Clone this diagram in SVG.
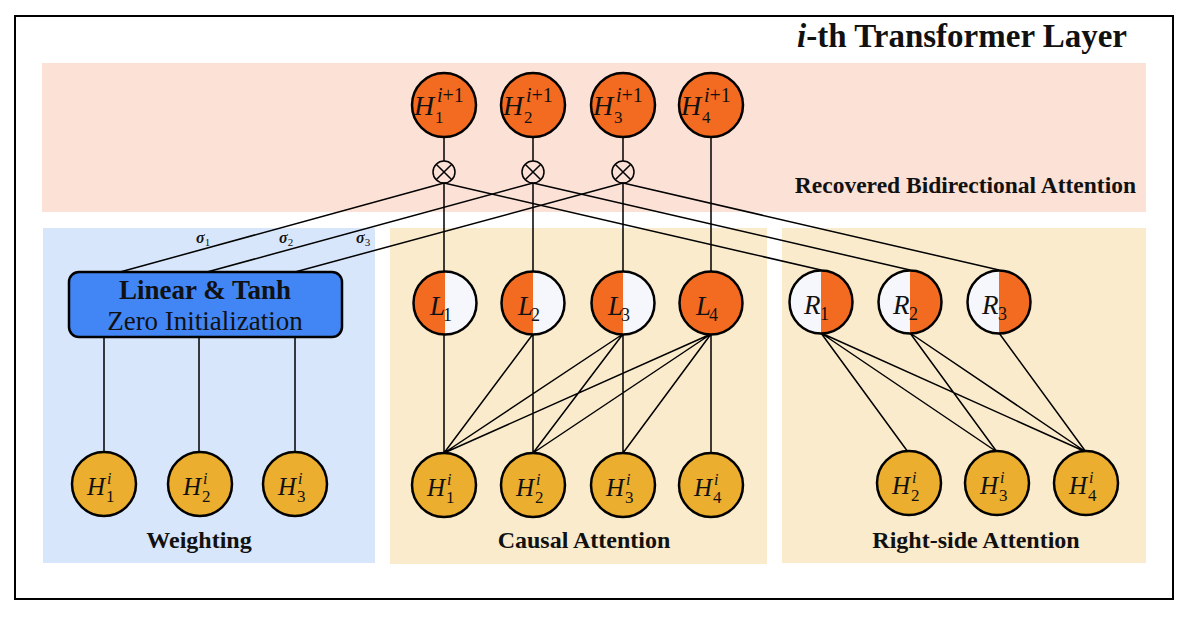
<svg xmlns="http://www.w3.org/2000/svg" width="1197" height="618" viewBox="0 0 1197 618">
<defs>
<linearGradient id="gL" x1="0" y1="0" x2="1" y2="0"><stop offset="0.5" stop-color="#F36B21"/><stop offset="0.5" stop-color="#F5F7FC"/></linearGradient>
<linearGradient id="gR" x1="0" y1="0" x2="1" y2="0"><stop offset="0.5" stop-color="#F5F7FC"/><stop offset="0.5" stop-color="#F36B21"/></linearGradient>
<style>
.nd{stroke:#000;stroke-width:2.5}
.or{fill:#F36B21}
.gd{fill:#EBAE2F}
.hl{fill:url(#gL)}
.hr{fill:url(#gR)}
.ln{stroke:#000;stroke-width:1.5;fill:none}
.mi{font-family:"Liberation Serif",serif;font-style:italic;fill:#111}
.up{font-style:normal}
.lb{font-family:"Liberation Serif",serif;font-weight:bold;fill:#111}
</style>
</defs>
<rect x="0" y="0" width="1197" height="618" fill="#fff"/>
<rect x="15" y="16" width="1158" height="583" fill="#fff" stroke="#000" stroke-width="2"/>
<g id="panels">
<rect x="42" y="63" width="1104" height="149" fill="#FCE1D6"/>
<rect x="43" y="228" width="332" height="335" fill="#D7E6FA"/>
<rect x="390" y="228" width="377" height="336" fill="#FAEBCC"/>
<rect x="782" y="228" width="364" height="335" fill="#FAEBCC"/>
</g>
<text class="lb" x="1127" y="47" font-size="33" text-anchor="end"><tspan font-style="italic">i</tspan>-th Transformer Layer</text>
<text class="lb" x="1136" y="193" font-size="23.5" text-anchor="end">Recovered Bidirectional Attention</text>
<text class="lb" x="199" y="548" font-size="24" text-anchor="middle">Weighting</text>
<text class="lb" x="584" y="548" font-size="24" text-anchor="middle">Causal Attention</text>
<text class="lb" x="976" y="548" font-size="24" text-anchor="middle">Right-side Attention</text>
<g id="connectors">
<path class="ln" d="M444 137V161M533 137V161M623 137V161M711 137V272"/>
<path class="ln" d="M444 183V272M533 183V272M623 183V272"/>
<path class="ln" d="M444 183L120 272M533 183L207 272M623 183L295 272"/>
<path class="ln" d="M444 183L821 270M533 183L910 270M623 183L999 270"/>
<path class="ln" d="M104 337V452M199 337V452M295 337V452"/>
<path class="ln" d="M444 334L444 453M533 334L444 453M533 334L533 453M623 334L444 453M623 334L533 453M623 334L623 453M711 334L444 453M711 334L533 453M711 334L623 453M711 334L711 453"/>
<path class="ln" d="M821 333L908 452M821 333L997 452M821 333L1086 452M910 333L997 452M910 333L1086 452M999 333L1086 452"/>
</g>
<g id="sigmas" class="mi" font-size="16" font-weight="bold">
<text x="196" y="243">σ<tspan class="up" font-size="11" dy="3" font-weight="normal">1</tspan></text>
<text x="279" y="243">σ<tspan class="up" font-size="11" dy="3" font-weight="normal">2</tspan></text>
<text x="356" y="243">σ<tspan class="up" font-size="11" dy="3" font-weight="normal">3</tspan></text>
</g>
<g id="box">
<rect x="69" y="272" width="273" height="65" rx="10" fill="#4286F5" stroke="#000" stroke-width="2.5"/>
<text class="lb" x="205" y="299" font-size="27" text-anchor="middle">Linear &amp; Tanh</text>
<text x="205" y="330" font-size="27" text-anchor="middle" font-family="Liberation Serif,serif" fill="#111">Zero Initialization</text>
</g>
<g id="otimes" class="ln">
<g id="ot1"><circle cx="444" cy="172" r="11"/><path d="M436.2 164.2L451.8 179.8M451.8 164.2L436.2 179.8"/></g>
<g id="ot2"><circle cx="533" cy="172" r="11"/><path d="M525.2 164.2L540.8 179.8M540.8 164.2L525.2 179.8"/></g>
<g id="ot3"><circle cx="623" cy="172" r="11"/><path d="M615.2 164.2L630.8 179.8M630.8 164.2L615.2 179.8"/></g>
</g>
<g id="top-nodes">
<g id="Hn1"><circle class="nd or" cx="444" cy="105" r="32"/><text class="mi" x="414" y="115" font-size="28">H<tspan x="437" y="102" font-size="20">i</tspan><tspan class="up" font-size="20">+1</tspan><tspan class="up" x="435" y="123" font-size="17">1</tspan></text></g>
<g id="Hn2"><circle class="nd or" cx="533" cy="105" r="32"/><text class="mi" x="503" y="115" font-size="28">H<tspan x="526" y="102" font-size="20">i</tspan><tspan class="up" font-size="20">+1</tspan><tspan class="up" x="524" y="123" font-size="17">2</tspan></text></g>
<g id="Hn3"><circle class="nd or" cx="623" cy="105" r="32"/><text class="mi" x="593" y="115" font-size="28">H<tspan x="616" y="102" font-size="20">i</tspan><tspan class="up" font-size="20">+1</tspan><tspan class="up" x="614" y="123" font-size="17">3</tspan></text></g>
<g id="Hn4"><circle class="nd or" cx="711" cy="105" r="32"/><text class="mi" x="681" y="115" font-size="28">H<tspan x="704" y="102" font-size="20">i</tspan><tspan class="up" font-size="20">+1</tspan><tspan class="up" x="702" y="123" font-size="17">4</tspan></text></g>
</g>
<g id="L-nodes">
<g id="L1"><circle class="nd hl" cx="445" cy="303" r="31.5"/><text class="mi" x="430" y="315" font-size="27">L<tspan class="up" x="443" y="321" font-size="18">1</tspan></text></g>
<g id="L2"><circle class="nd hl" cx="533" cy="303" r="31.5"/><text class="mi" x="518" y="315" font-size="27">L<tspan class="up" x="531" y="321" font-size="18">2</tspan></text></g>
<g id="L3"><circle class="nd hl" cx="623" cy="303" r="31.5"/><text class="mi" x="608" y="315" font-size="27">L<tspan class="up" x="621" y="321" font-size="18">3</tspan></text></g>
<g id="L4"><circle class="nd or" cx="711" cy="303" r="31.5"/><text class="mi" x="696" y="315" font-size="27">L<tspan class="up" x="709" y="321" font-size="18">4</tspan></text></g>
</g>
<g id="R-nodes">
<g id="R1"><circle class="nd hr" cx="821" cy="302" r="31.5"/><text class="mi" x="804" y="314" font-size="27">R<tspan class="up" x="820" y="320" font-size="18">1</tspan></text></g>
<g id="R2"><circle class="nd hr" cx="910" cy="302" r="31.5"/><text class="mi" x="893" y="314" font-size="27">R<tspan class="up" x="909" y="320" font-size="18">2</tspan></text></g>
<g id="R3"><circle class="nd hr" cx="999" cy="302" r="31.5"/><text class="mi" x="982" y="314" font-size="27">R<tspan class="up" x="998" y="320" font-size="18">3</tspan></text></g>
</g>
<g id="bottom-nodes">
<g id="W1"><circle class="nd gd" cx="104" cy="484" r="32"/><text class="mi" x="87" y="495" font-size="25">H<tspan x="107" y="484" font-size="16">i</tspan><tspan class="up" x="106" y="502" font-size="17">1</tspan></text></g>
<g id="W2"><circle class="nd gd" cx="200" cy="484" r="32"/><text class="mi" x="183" y="495" font-size="25">H<tspan x="203" y="484" font-size="16">i</tspan><tspan class="up" x="202" y="502" font-size="17">2</tspan></text></g>
<g id="W3"><circle class="nd gd" cx="295" cy="484" r="32"/><text class="mi" x="278" y="495" font-size="25">H<tspan x="298" y="484" font-size="16">i</tspan><tspan class="up" x="297" y="502" font-size="17">3</tspan></text></g>
<g id="C1"><circle class="nd gd" cx="444" cy="485" r="32"/><text class="mi" x="427" y="496" font-size="25">H<tspan x="447" y="485" font-size="16">i</tspan><tspan class="up" x="446" y="503" font-size="17">1</tspan></text></g>
<g id="C2"><circle class="nd gd" cx="533" cy="485" r="32"/><text class="mi" x="516" y="496" font-size="25">H<tspan x="536" y="485" font-size="16">i</tspan><tspan class="up" x="535" y="503" font-size="17">2</tspan></text></g>
<g id="C3"><circle class="nd gd" cx="623" cy="485" r="32"/><text class="mi" x="606" y="496" font-size="25">H<tspan x="626" y="485" font-size="16">i</tspan><tspan class="up" x="625" y="503" font-size="17">3</tspan></text></g>
<g id="C4"><circle class="nd gd" cx="711" cy="485" r="32"/><text class="mi" x="694" y="496" font-size="25">H<tspan x="714" y="485" font-size="16">i</tspan><tspan class="up" x="713" y="503" font-size="17">4</tspan></text></g>
<g id="S2"><circle class="nd gd" cx="909" cy="483" r="32"/><text class="mi" x="892" y="494" font-size="25">H<tspan x="912" y="483" font-size="16">i</tspan><tspan class="up" x="911" y="501" font-size="17">2</tspan></text></g>
<g id="S3"><circle class="nd gd" cx="997" cy="483" r="32"/><text class="mi" x="980" y="494" font-size="25">H<tspan x="1000" y="483" font-size="16">i</tspan><tspan class="up" x="999" y="501" font-size="17">3</tspan></text></g>
<g id="S4"><circle class="nd gd" cx="1086" cy="483" r="32"/><text class="mi" x="1069" y="494" font-size="25">H<tspan x="1089" y="483" font-size="16">i</tspan><tspan class="up" x="1088" y="501" font-size="17">4</tspan></text></g>
</g>
</svg>
